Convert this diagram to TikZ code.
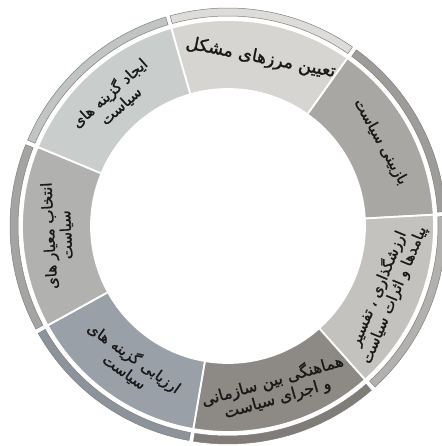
\documentclass[tikz,border=0pt]{standalone}
\usepackage{fontspec}
\TeXXeTstate=1
\newfontfamily\fafont[Script=Arabic,FakeBold=1.4]{DejaVu Sans}
\newcommand\ringsec[5]{%
  \path[#5] (#1:#3) arc[start angle=#1,end angle=#2,radius=#3] -- (#2:#4) arc[start angle=#2,end angle=#1,radius=#4] -- cycle;}
\tikzset{
  mainseg/.style={fill=#1,draw=white,line width=1.8pt},
  bandseg/.style={fill=#1,draw=black!50,line width=0.5pt},
  label/.style={font=\fafont\fontsize{15}{17}\selectfont,align=center,text=black!90,inner sep=0pt},
  biglabel/.style={label,font=\fafont\fontsize{17.5}{20}\selectfont}
}
\definecolor{m0}{HTML}{D6D5D1}\definecolor{b0}{HTML}{DDDCD8}
\definecolor{m1}{HTML}{A8A7A4}\definecolor{b1}{HTML}{9D9C99}
\definecolor{m2}{HTML}{C3C2BE}\definecolor{b2}{HTML}{B2B1AD}
\definecolor{m3}{HTML}{8D8984}\definecolor{b3}{HTML}{807C77}
\definecolor{m4}{HTML}{99A0A8}\definecolor{b4}{HTML}{8D939A}
\definecolor{m5}{HTML}{B1B2B0}\definecolor{b5}{HTML}{A4A5A3}
\definecolor{m6}{HTML}{C9CDCB}\definecolor{b6}{HTML}{C0C4C2}
\begin{document}
\begin{tikzpicture}[x=1pt,y=1pt]
\useasboundingbox (0,0) rectangle (441,446);
\fill[white] (0,0) rectangle (441,446);
\begin{scope}[shift={(228,220)}]
% main segments
\ringsec{54.57}{106}{137pt}{206pt}{mainseg=m0}
\ringsec{3.14}{54.57}{137pt}{206pt}{mainseg=m1}
\ringsec{-48.29}{3.14}{137pt}{206pt}{mainseg=m2}
\ringsec{-99.71}{-48.29}{137pt}{206pt}{mainseg=m3}
\ringsec{-151.14}{-99.71}{137pt}{206pt}{mainseg=m4}
\ringsec{-202.57}{-151.14}{137pt}{206pt}{mainseg=m5}
\ringsec{-254}{-202.57}{137pt}{206pt}{mainseg=m6}
% outer bands
\ringsec{55.2}{105.4}{210pt}{218pt}{bandseg=b0}
\ringsec{3.8}{53.9}{210pt}{218pt}{bandseg=b1}
\ringsec{-47.6}{2.5}{210pt}{218pt}{bandseg=b2}
\ringsec{-99.1}{-48.9}{210pt}{218pt}{bandseg=b3}
\ringsec{-150.5}{-100.3}{210pt}{218pt}{bandseg=b4}
\ringsec{-201.9}{-151.8}{210pt}{218pt}{bandseg=b5}
\ringsec{-253.4}{-203.2}{210pt}{218pt}{bandseg=b6}
% labels
\node[biglabel,rotate=-11] (t0) at (79:171pt) {\beginR تعیین مرزهای مشکل\endR};
\node[label,rotate=-61.14] (t1) at (28.86:174pt) {\beginR بازبینی سیاست\endR};
\node[label,rotate=67.43] (t2) at (-22.57:171pt) {\beginR ارزشگذاری ، تفسیر\endR\\\beginR پیامدها و اثرات سیاست\endR};
\node[label,font=\fafont\fontsize{16}{18}\selectfont,rotate=16] (t3) at (-74:170pt) {\beginR هماهنگی بین سازمانی\endR\\\beginR و اجرای سیاست\endR};
\node[label,rotate=-35.43] (t4) at (-125.43:170pt) {\beginR ارزیابی گزینه های\endR\\\beginR سیاست\endR};
\node[label,rotate=93.14] (t5) at (-176.86:170pt) {\beginR انتخاب معیار های\endR\\\beginR سیاست\endR};
\node[label,rotate=41.71] (t6) at (131.71:170pt) {\beginR ایجاد گزینه های\endR\\\beginR سیاست\endR};
\end{scope}
\end{tikzpicture}
\end{document}
